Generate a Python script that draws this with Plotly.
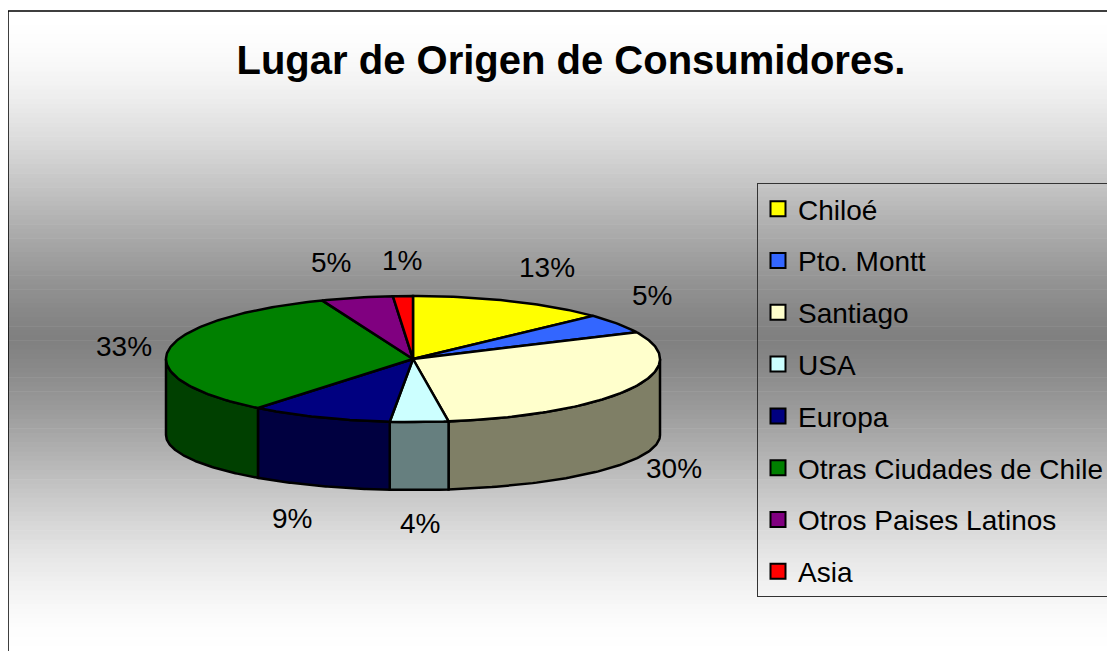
import numpy as np
import plotly.graph_objects as go

# ---------------- data ----------------
categories = ["Chiloé", "Pto. Montt", "Santiago", "USA", "Europa",
              "Otras Ciudades de Chile", "Otros Paises Latinos", "Asia"]
values = [13.0, 5.0, 29.7, 3.8, 9.3, 33.2, 4.7, 1.3]
top_colors = ["#FFFF00", "#3366FF", "#FFFFCC", "#CCFFFF", "#000080",
              "#008000", "#800080", "#FF0000"]
title_text = "Lugar de Origen de Consumidores."

# ---------------- geometry (pixel space) ----------------
W, H = 1115, 651
OFF = 8.0                    # page body margin
XC, YC = 413.0, 359.0        # centre of top face
RX, RY = 247.0, 63.0         # top face radii
YCB, RYB = 435.0, 55.0       # bottom face centre / radius (perspective)
FONT = "Liberation Sans, Arial, sans-serif"


def darker(hexcol, f=0.5):
    h = hexcol.lstrip("#")
    r, g, b = (int(h[i:i + 2], 16) for i in (0, 2, 4))
    return "#%02X%02X%02X" % (int(r * f), int(g * f), int(b * f))


def top_pt(t):
    return XC + RX * np.sin(t), YC - RY * np.cos(t)


def bot_pt(t):
    return XC + RX * np.sin(t), YCB - RYB * np.cos(t)


def px(x):
    return (x - OFF) / W


def py(y):
    return 1 - (y - OFF) / H


total = float(sum(values))
fracs = [v / total for v in values]
starts = np.cumsum([0.0] + fracs[:-1])
ends = starts + np.array(fracs)

fig = go.Figure()

# ---------------- background gradient ----------------
shapes = []
y_top, y_bot, y_mid = 11.0, 660.0, 338.0
nb = 140
edges = np.linspace(y_top, y_bot, nb + 1)
for i in range(nb):
    ym = 0.5 * (edges[i] + edges[i + 1])
    half = (y_mid - y_top) if ym < y_mid else (y_bot - y_mid)
    t = min(abs(ym - y_mid) / half, 1.0)
    f = 3 * t * t - 2 * t ** 3
    f = 0.6 * f + 0.4 * np.sin(t * np.pi / 2)
    g = int(round(128 + 127 * f))
    shapes.append(dict(type="rect", xref="x", yref="y", layer="below",
                       x0=8, x1=W + 20, y0=edges[i], y1=edges[i + 1] + 0.6,
                       line=dict(width=0), fillcolor="rgb(%d,%d,%d)" % (g, g, g)))
shapes.append(dict(type="rect", xref="x", yref="y", layer="above",
                   x0=8, x1=W + 20, y0=11, y1=H + 20,
                   line=dict(color="black", width=1.5), fillcolor="rgba(0,0,0,0)"))

# ---------------- side faces (front half only) ----------------
for i, cat in enumerate(categories):
    a = starts[i] * 2 * np.pi
    b = ends[i] * 2 * np.pi
    a2, b2 = max(a, np.pi / 2), min(b, 3 * np.pi / 2)
    if b2 <= a2:
        continue
    ts = np.linspace(a2, b2, 80)
    xt, yt = top_pt(ts)
    xb, yb = bot_pt(ts[::-1])
    xs = np.concatenate([xt, xb, xt[:1]])
    ys = np.concatenate([yt, yb, yt[:1]])
    fig.add_trace(go.Scatter(x=xs, y=ys, mode="lines", fill="toself",
                             fillcolor=darker(top_colors[i]),
                             line=dict(color="black", width=2.5),
                             hoverinfo="skip", showlegend=False))

# ---------------- top faces ----------------
for i, cat in enumerate(categories):
    a = starts[i] * 2 * np.pi
    b = ends[i] * 2 * np.pi
    n = max(int(fracs[i] * 360), 6)
    ts = np.linspace(a, b, n)
    xa, ya = top_pt(ts)
    xs = np.concatenate([[XC], xa, [XC]])
    ys = np.concatenate([[YC], ya, [YC]])
    fig.add_trace(go.Scatter(x=xs, y=ys, mode="lines", fill="toself",
                             fillcolor=top_colors[i],
                             line=dict(color="black", width=2.5),
                             name=cat, hoverinfo="name", showlegend=False))

# ---------------- legend entries ----------------
for i, cat in enumerate(categories):
    fig.add_trace(go.Scatter(x=[None], y=[None], mode="markers", name=cat,
                             legendgroup="g%d" % i,
                             marker=dict(symbol="square", size=15,
                                         color=top_colors[i],
                                         line=dict(color="black", width=2))))

# ---------------- percentage labels ----------------
annotations = []
GX, GY = 15.0, 16.0
for i, cat in enumerate(categories):
    m = (starts[i] + ends[i]) / 2 * 2 * np.pi
    s, c = np.sin(m), np.cos(m)
    x = XC + (RX + GX) * s
    if c >= 0:
        y = YC - (RY + GY + 2) * c
    else:
        y = YCB - (RYB + GY) * c
    xa = "left" if s > 0.2 else ("right" if s < -0.2 else "center")
    ya = "bottom" if c > 0.5 else ("top" if c < -0.5 else "middle")
    annotations.append(dict(x=x, y=y, xref="x", yref="y", text="%d%%" % round(values[i]),
                            showarrow=False, xanchor=xa, yanchor=ya,
                            font=dict(family=FONT, size=28, color="black")))

fig.update_layout(
    width=W, height=H,
    margin=dict(l=0, r=0, t=0, b=0),
    paper_bgcolor="white", plot_bgcolor="white",
    xaxis=dict(range=[OFF, OFF + W], visible=False, fixedrange=True),
    yaxis=dict(range=[OFF + H, OFF], visible=False, fixedrange=True),
    shapes=shapes,
    annotations=annotations,
    title=dict(text=title_text, x=px(571), y=py(60), xanchor="center", yanchor="middle",
               font=dict(family=FONT, size=40, color="black", weight="bold")),
    legend=dict(x=px(757), y=py(183), xanchor="left", yanchor="top",
                bgcolor="rgba(0,0,0,0)", bordercolor="#333333", borderwidth=1,
                font=dict(family=FONT, size=28, color="black"),
                traceorder="grouped", tracegroupgap=12.4, itemsizing="trace"),
    showlegend=True,
)

fig.write_html("out.html")
